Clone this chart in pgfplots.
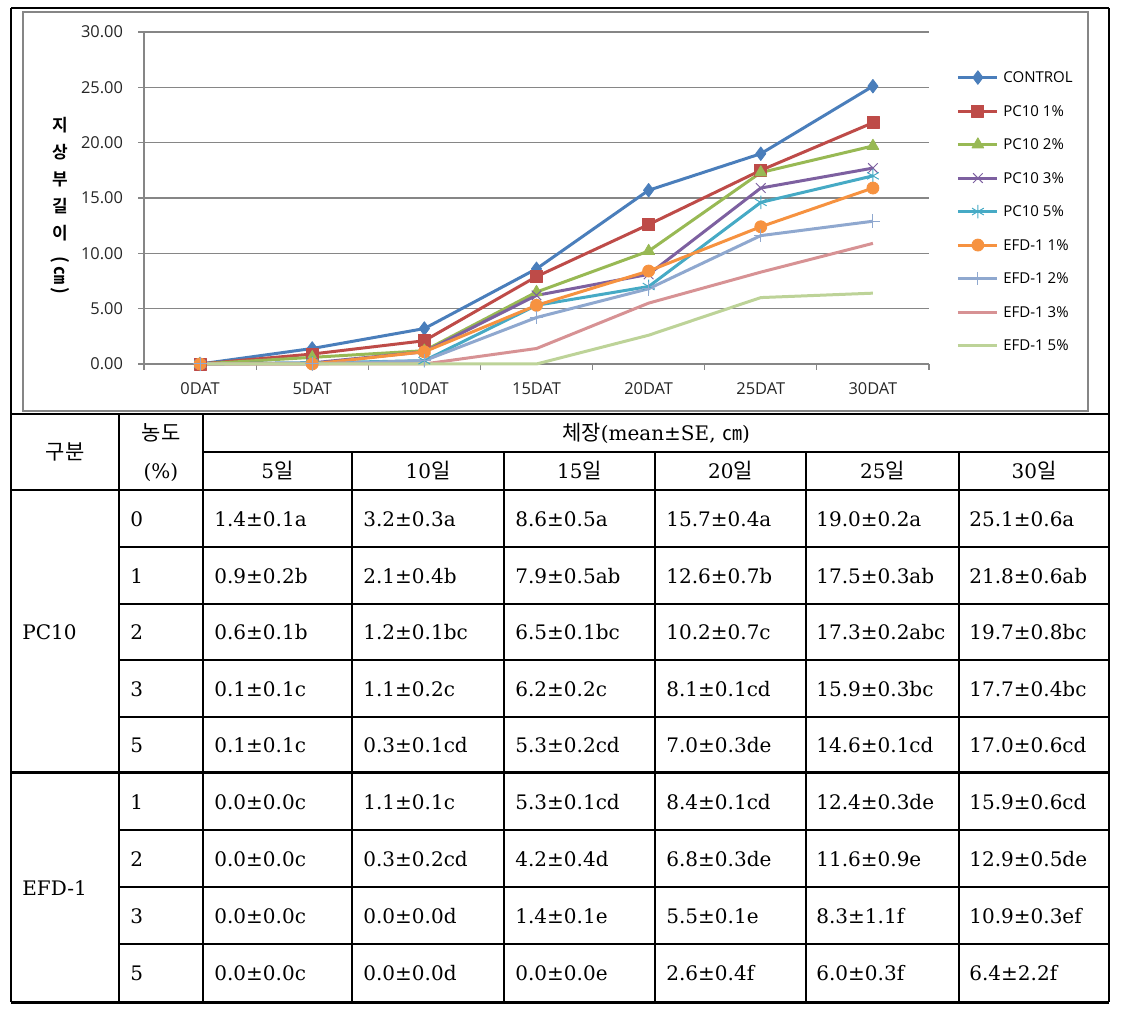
\documentclass[border=0pt]{standalone}
\usepackage{fontspec}
\usepackage{graphicx}
\usepackage{pgfplots}
\pgfplotsset{compat=1.18}
\setmainfont{DejaVu Serif}
\newfontfamily\kr{Noto Sans CJK KR}[BoldFont={Noto Sans CJK KR Bold}]
\newfontfamily\cf{Open Sans}
\definecolor{cA}{HTML}{4A7EBB}
\definecolor{cB}{HTML}{BE4B48}
\definecolor{cC}{HTML}{98B954}
\definecolor{cD}{HTML}{7D60A0}
\definecolor{cE}{HTML}{46AAC5}
\definecolor{cF}{HTML}{F69240}
\definecolor{cG}{HTML}{8FA8CF}
\definecolor{cH}{HTML}{D79294}
\definecolor{cI}{HTML}{BDD398}
\definecolor{gridc}{HTML}{868686}
\begin{document}
\begin{tikzpicture}
\useasboundingbox (0,0) rectangle (564pt,508pt);
\begin{axis}[
  at={(72pt,326pt)}, anchor=south west,
  scale only axis, width=392.5pt, height=166pt,
  xmin=-0.5, xmax=6.5, ymin=0, ymax=30,
  clip=false,
  axis x line=bottom, axis y line=left,
  axis line style={draw=gridc, line width=0.6pt, -},
  tick align=outside,
  major tick length=3pt, minor tick length=3pt,
  tick style={draw=gridc, line width=0.6pt},
  every major x tick/.style={draw=none},
  xtick={0,...,6},
  minor xtick={-0.5,0.5,...,6.5},
  xticklabels={0DAT,5DAT,10DAT,15DAT,20DAT,25DAT,30DAT},
  ytick={0,5,...,30},
  ymajorgrids,
  major grid style={draw=gridc, line width=0.6pt},
  /pgf/number format/assume math mode=true,
  yticklabel style={/pgf/number format/fixed, /pgf/number format/fixed zerofill, /pgf/number format/precision=2, xshift=-4pt},
  xticklabel style={yshift=-3pt},
  ticklabel style={font=\cf\fontsize{8.2}{10}\selectfont, text=black!85},
  legend style={at={(axis description cs:1.0344,0.885)}, anchor=north west, draw=none, fill=none,
    font=\cf\fontsize{7.5}{9}\selectfont, inner sep=0pt, row sep=9.75pt, column sep=2.5pt,
    nodes={inner sep=0pt, text height=6pt, text depth=1pt}},
  legend cell align=left,
  legend image code/.code={\draw[mark repeat=2,mark phase=2,#1] plot coordinates {(0pt,0pt) (10pt,0pt) (19.5pt,0pt)};},
  every axis plot/.append style={line width=1.5pt, line join=round},
]
\addplot[color=cA, mark=diamond*, mark size=3.4pt, mark options={solid, line width=0.4pt}] coordinates {(0,0) (1,1.4) (2,3.2) (3,8.6) (4,15.7) (5,19.0) (6,25.1)};
\addlegendentry{CONTROL}
\addplot[color=cB, mark=square*, mark size=3pt, mark options={solid, line width=0.4pt}] coordinates {(0,0) (1,0.9) (2,2.1) (3,7.9) (4,12.6) (5,17.5) (6,21.8)};
\addlegendentry{PC10 1\%}
\addplot[color=cC, mark=triangle*, mark size=3.4pt, mark options={solid, line width=0.4pt}] coordinates {(0,0) (1,0.6) (2,1.2) (3,6.5) (4,10.2) (5,17.3) (6,19.7)};
\addlegendentry{PC10 2\%}
\addplot[color=cD, mark=x, mark size=3.4pt, mark options={solid, line width=0.5pt}] coordinates {(0,0) (1,0.1) (2,1.1) (3,6.2) (4,8.1) (5,15.9) (6,17.7)};
\addlegendentry{PC10 3\%}
\addplot[color=cE, mark=asterisk, mark size=3.4pt, mark options={solid, line width=0.5pt}] coordinates {(0,0) (1,0.1) (2,0.3) (3,5.3) (4,7.0) (5,14.6) (6,17.0)};
\addlegendentry{PC10 5\%}
\addplot[color=cF, mark=*, mark size=3pt, mark options={solid, line width=0.4pt}] coordinates {(0,0) (1,0.0) (2,1.1) (3,5.3) (4,8.4) (5,12.4) (6,15.9)};
\addlegendentry{EFD-1 1\%}
\addplot[color=cG, mark=+, mark size=3.4pt, mark options={solid, line width=0.5pt}] coordinates {(0,0) (1,0.0) (2,0.3) (3,4.2) (4,6.8) (5,11.6) (6,12.9)};
\addlegendentry{EFD-1 2\%}
\addplot[color=cH, no marks] coordinates {(0,0) (1,0.0) (2,0.0) (3,1.4) (4,5.5) (5,8.3) (6,10.9)};
\addlegendentry{EFD-1 3\%}
\addplot[color=cI, no marks] coordinates {(0,0) (1,0.0) (2,0.0) (3,0.0) (4,2.6) (5,6.0) (6,6.4)};
\addlegendentry{EFD-1 5\%}
\end{axis}
\begin{scope}[x=0.5pt, y=-0.5pt, yshift=508pt]
  % y label
  \node[anchor=north, align=center, inner sep=0pt, font=\kr\bfseries\fontsize{8.5}{13.5}\selectfont] at (60,117)
    {지\\상\\부\\길\\이\\[-5pt]\rotatebox{-90}{\fontsize{9}{11}\selectfont(\,㎝\,)}};
  % chart frame
  \draw[gridc, line width=1pt] (23,12) rectangle (1088,411);
  % table lines thin
  \begin{scope}[line width=0.65pt]
    \draw (11,8) -- (1109,8);
    \draw (11,8) -- (11,1002);
    \draw (1109,8) -- (1109,1002);
    \draw (11,414) -- (1109,414);
    \draw (203,452) -- (1109,452);
    \draw (11,490) -- (1109,490);
    \foreach \yy in {547,604,660,717,830,887,944} {\draw (119,\yy) -- (1109,\yy);}
    \draw (119,414) -- (119,1002);
    \draw (203,414) -- (203,1002);
    \foreach \xx in {352,504,655,806,959} {\draw (\xx,452) -- (\xx,1002);}
  \end{scope}
  \draw[line width=1.5pt] (11,773) -- (1109,773);
  \draw[line width=1.5pt] (11,1002) -- (1109,1002);
  % header
  \begin{scope}[every node/.style={inner sep=0pt, font=\fontsize{10}{12}\selectfont}]
    \node at (65,452) {\kr\fontsize{10.5}{12}\selectfont 구분};
    \node at (161,433) {\kr\fontsize{10.5}{12}\selectfont 농도};
    \node at (161,472) {(\%)};
    \node at (656,433) {{\kr\fontsize{10.5}{12}\selectfont 체장}(mean±SE,\ {\kr ㎝})};
    \foreach \xx/\dd in {277.5/5,428/10,579.5/15,730.5/20,882.5/25,1034/30}
      {\node at (\xx,471) {\dd{\kr\fontsize{10.5}{12}\selectfont 일}};}
    \node[anchor=west] at (22,632) {PC10};
    \node[anchor=west] at (22,888) {EFD-1};
    \foreach \yy/\c/\a/\b/\d/\e/\f/\g in {
      519/0/1.4±0.1a/3.2±0.3a/8.6±0.5a/15.7±0.4a/19.0±0.2a/25.1±0.6a,
      576/1/0.9±0.2b/2.1±0.4b/7.9±0.5ab/12.6±0.7b/17.5±0.3ab/21.8±0.6ab,
      632.5/2/0.6±0.1b/1.2±0.1bc/6.5±0.1bc/10.2±0.7c/17.3±0.2abc/19.7±0.8bc,
      689/3/0.1±0.1c/1.1±0.2c/6.2±0.2c/8.1±0.1cd/15.9±0.3bc/17.7±0.4bc,
      745.5/5/0.1±0.1c/0.3±0.1cd/5.3±0.2cd/7.0±0.3de/14.6±0.1cd/17.0±0.6cd,
      802/1/0.0±0.0c/1.1±0.1c/5.3±0.1cd/8.4±0.1cd/12.4±0.3de/15.9±0.6cd,
      859/2/0.0±0.0c/0.3±0.2cd/4.2±0.4d/6.8±0.3de/11.6±0.9e/12.9±0.5de,
      916/3/0.0±0.0c/0.0±0.0d/1.4±0.1e/5.5±0.1e/8.3±1.1f/10.9±0.3ef,
      973.5/5/0.0±0.0c/0.0±0.0d/0.0±0.0e/2.6±0.4f/6.0±0.3f/6.4±2.2f}
    {
      \node[anchor=west] at (130,\yy) {\c};
      \node[anchor=west] at (214,\yy) {\a};
      \node[anchor=west] at (363,\yy) {\b};
      \node[anchor=west] at (515,\yy) {\d};
      \node[anchor=west] at (666,\yy) {\e};
      \node[anchor=west] at (816,\yy) {\f};
      \node[anchor=west] at (969,\yy) {\g};
    }
  \end{scope}
\end{scope}
\end{tikzpicture}
\end{document}
